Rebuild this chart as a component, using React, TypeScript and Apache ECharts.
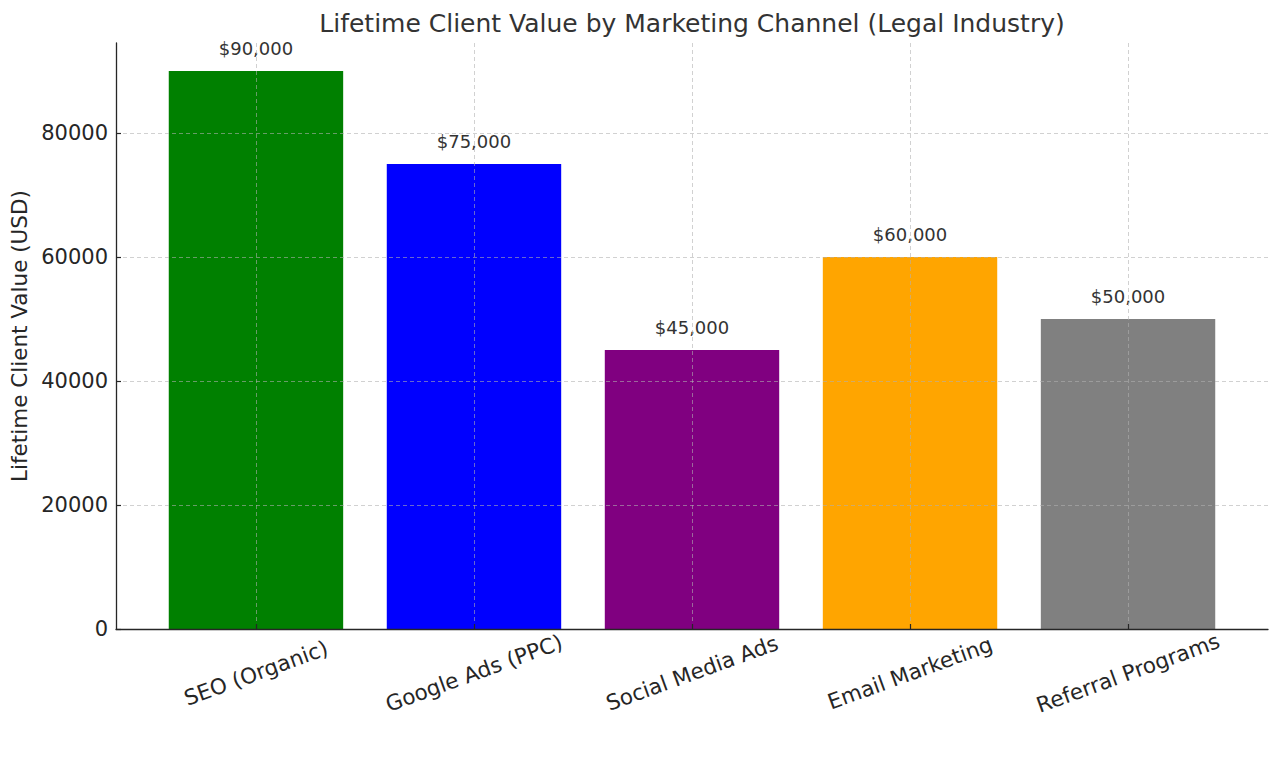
import React, { useEffect, useRef } from "react";
import * as echarts from "echarts";

const categories = ["SEO (Organic)", "Google Ads (PPC)", "Social Media Ads", "Email Marketing", "Referral Programs"];
const values = [90000, 75000, 45000, 60000, 50000];
const barColors = ["#008000", "#0000ff", "#800080", "#ffa500", "#808080"];
const yTicks = [0, 20000, 40000, 60000, 80000];
const titleText = "Lifetime Client Value by Marketing Channel (Legal Industry)";
const yAxisTitle = "Lifetime Client Value (USD)";

const FONT = "DejaVu Sans";

export default function App() {
  const ref = useRef<HTMLDivElement>(null);
  useEffect(() => {
    if (!ref.current) return;
    const chart = echarts.init(ref.current, undefined, { renderer: "svg" });
    const idx = categories.map((_, i) => i);
    const gridLine = { show: true, lineStyle: { color: "rgba(176,176,176,0.65)", width: 0.9, type: [4, 3] as any } };
    chart.setOption({
      animation: false,
      backgroundColor: "#ffffff",
      textStyle: { fontFamily: FONT },
      grid: { left: 116, right: 12, top: 43, bottom: 134, containLabel: false },
      graphic: [
        {
          type: "text",
          x: 692,
          y: 23,
          style: {
            text: titleText,
            fontFamily: FONT,
            fontSize: 25,
            fill: "#333333",
            textAlign: "center",
            textVerticalAlign: "middle",
          },
        },
      ],
      xAxis: {
        type: "value",
        min: -0.642,
        max: 4.642,
        z: 5,
        axisLine: { show: true, onZero: false, lineStyle: { color: "#262626", width: 1.3 } },
        axisTick: { show: true, inside: true, length: 5, customValues: idx, lineStyle: { color: "#262626", width: 1.2 } },
        axisLabel: {
          customValues: idx,
          formatter: (v: number) => categories[Math.round(v)] ?? "",
          rotate: 20,
          align: "center",
          verticalAlign: "middle",
          margin: 44,
          fontSize: 21.5,
          color: "#262626",
          fontFamily: FONT,
        },
        splitLine: gridLine,
      },
      yAxis: {
        type: "value",
        min: 0,
        max: 94500,
        z: 5,
        name: yAxisTitle,
        nameLocation: "middle",
        nameGap: 82,
        nameTextStyle: { fontSize: 21.5, color: "#262626", fontFamily: FONT },
        axisLine: { show: true, onZero: false, lineStyle: { color: "#262626", width: 1.3 } },
        axisTick: { show: true, inside: true, length: 5, customValues: yTicks, lineStyle: { color: "#262626", width: 1.2 } },
        axisLabel: {
          customValues: yTicks,
          formatter: (v: number) => String(v),
          fontSize: 21,
          color: "#262626",
          margin: 8,
          fontFamily: FONT,
        },
        splitLine: gridLine,
      },
      series: [
        {
          type: "bar",
          barWidth: "80%",
          z: 2,
          data: values.map((v, i) => ({ value: [i, v], itemStyle: { color: barColors[i] } })),
          label: {
            show: true,
            position: "top",
            distance: 13,
            fontSize: 18,
            color: "#333333",
            fontFamily: FONT,
            formatter: (p: any) => "$" + Number(p.value[1]).toLocaleString("en-US"),
          },
        },
      ],
    });
    return () => chart.dispose();
  }, []);
  return <div ref={ref} style={{ position: "fixed", left: 0, top: 0, width: 1280, height: 763 }} />;
}
